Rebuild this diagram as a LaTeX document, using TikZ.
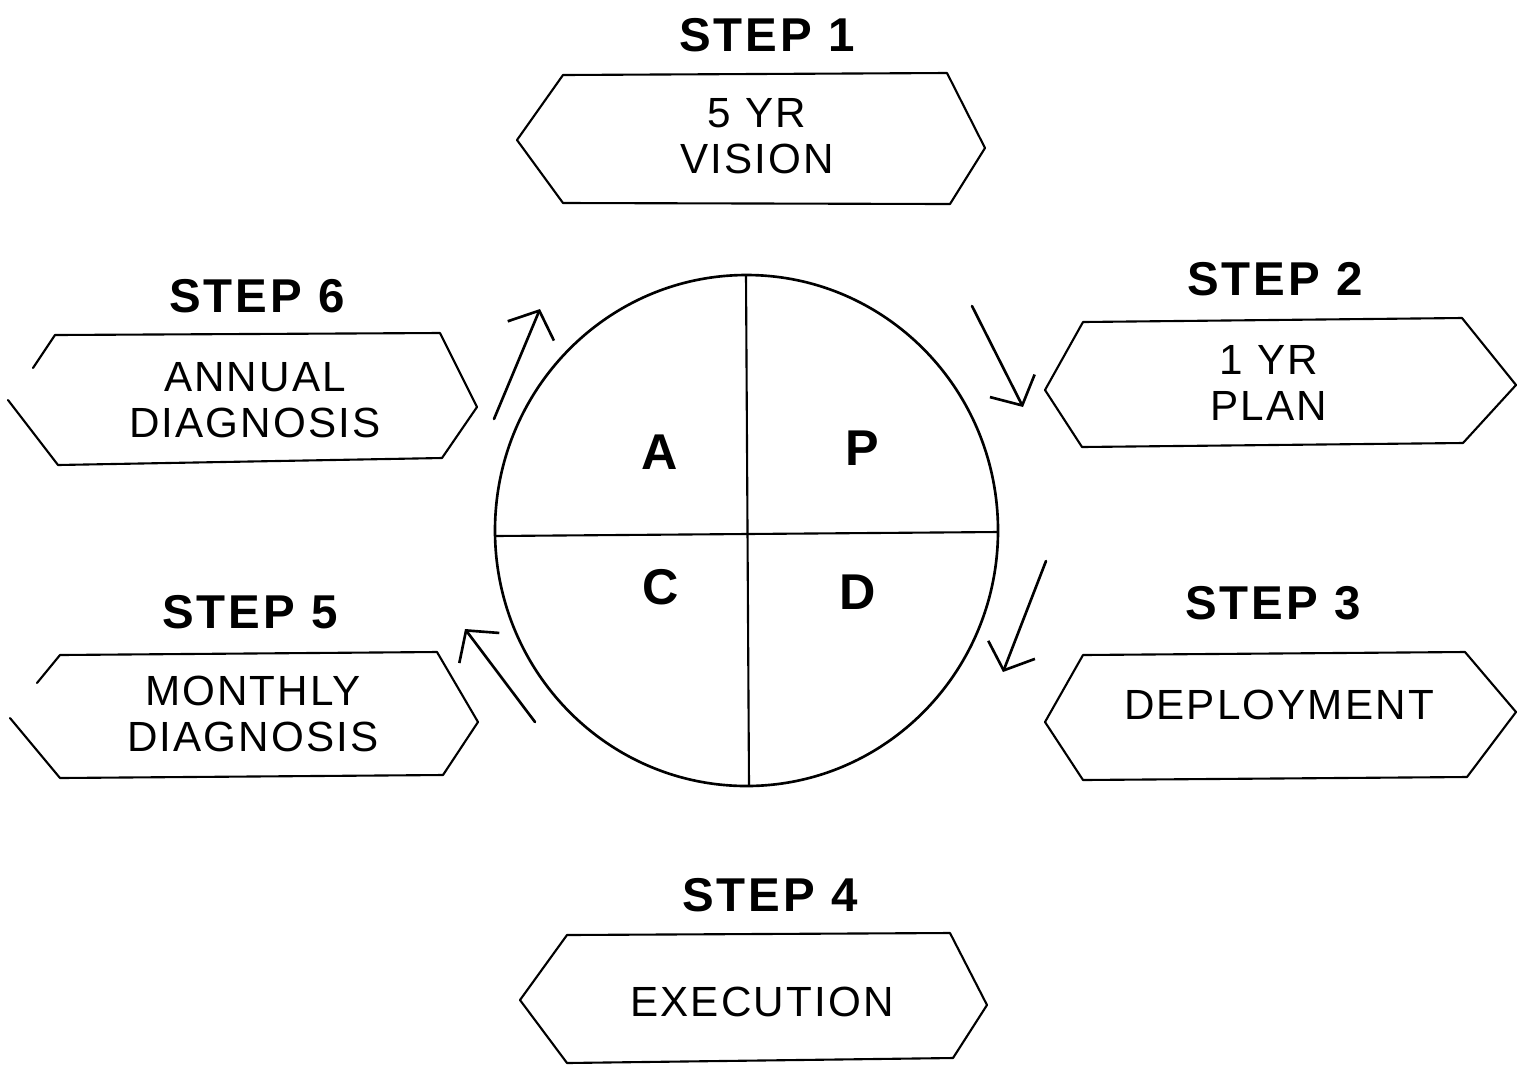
\documentclass[tikz,border=0pt]{standalone}
\usepackage{fontspec}
\setmainfont{Liberation Sans}
\usetikzlibrary{arrows.meta}
\begin{document}
\begin{tikzpicture}[x=0.01cm,y=-0.01cm,
  hexline/.style={line width=0.6pt, line join=round, line cap=round},
  steplabel/.style={inner sep=0,
    font=\fontsize{13.5}{16}\selectfont\bfseries\addfontfeatures{LetterSpace=6}},
  boxtext/.style={inner sep=0, align=center,
    font=\fontsize{12}{13.1}\selectfont\addfontfeatures{LetterSpace=5}},
  quadlabel/.style={inner sep=0, font=\fontsize{14.3}{16}\selectfont\bfseries},
  cycle arrow/.style={line width=0.75pt, line cap=round,
    -{Straight Barb[length=2.2mm, width=5mm, line join=miter]}},
]
\useasboundingbox (0,0) rectangle (1518,1069);

% ---- PDCA wheel ----
\draw[line width=0.75pt] (746.5,530.5) ellipse [x radius=251.5, y radius=255.5];
\coordinate (wN) at (746,275);
\coordinate (wS) at (749,786);
\coordinate (wW) at (495,536);
\coordinate (wE) at (998,532);
\draw[line width=0.6pt] (wN) -- (wS);
\draw[line width=0.6pt] (wW) -- (wE);
\node[quadlabel] (qA) at (660,452) {A};
\node[quadlabel] (qP) at (862,448) {P};
\node[quadlabel] (qC) at (661,587) {C};
\node[quadlabel] (qD) at (858,592) {D};

% ---- step 1 ----
\node[steplabel] (s1) at (767,35) {STEP 1};
\draw[hexline] (517,140) -- (563,75) -- (947,73) -- (985,148) -- (950,204) -- (563,203) -- cycle;
\node[boxtext] (b1) at (757,136) {5 YR\\VISION};

% ---- step 2 ----
\node[steplabel] (s2) at (1275,279) {STEP 2};
\draw[hexline] (1045,390) -- (1083,322) -- (1462,318) -- (1516,385) -- (1463,443) -- (1082,447) -- cycle;
\node[boxtext] (b2) at (1269,383) {1 YR\\PLAN};

% ---- step 3 ----
\node[steplabel] (s3) at (1273,603) {STEP 3};
\draw[hexline] (1045,722) -- (1083,655) -- (1465,652) -- (1516,712) -- (1467,777) -- (1083,780) -- cycle;
\node[boxtext] (b3) at (1279,705) {DEPLOYMENT};

% ---- step 4 ----
\node[steplabel] (s4) at (770,895) {STEP 4};
\draw[hexline] (520,1000) -- (567,935) -- (950,933) -- (987,1005) -- (953,1058) -- (567,1063) -- cycle;
\node[boxtext] (b4) at (762,1002) {EXECUTION};

% ---- step 5 ----
\node[steplabel] (s5) at (250,612) {STEP 5};
\draw[hexline] (37,683) -- (60,655) -- (437,652) -- (478,722) -- (443,775) -- (60,778) -- (10,718);
\node[boxtext] (b5) at (253,714) {MONTHLY\\DIAGNOSIS};

% ---- step 6 ----
\node[steplabel] (s6) at (257,296) {STEP 6};
\draw[hexline] (33,368) -- (55,335) -- (440,333) -- (477,407) -- (442,458) -- (58,465) -- (8,400);
\node[boxtext] (b6) at (255,400) {ANNUAL\\DIAGNOSIS};

% ---- cycle arrows ----
\coordinate (r2a) at (972,306);  \coordinate (r2b) at (1023,407);
\coordinate (r3a) at (1046,561); \coordinate (r3b) at (1003,672);
\coordinate (r5a) at (535,722);  \coordinate (r5b) at (465,629);
\coordinate (r6a) at (494,419);  \coordinate (r6b) at (540,309);
\draw[cycle arrow] (r2a) -- (r2b);
\draw[cycle arrow] (r3a) -- (r3b);
\draw[cycle arrow] (r5a) -- (r5b);
\draw[cycle arrow] (r6a) -- (r6b);
\end{tikzpicture}
\end{document}
